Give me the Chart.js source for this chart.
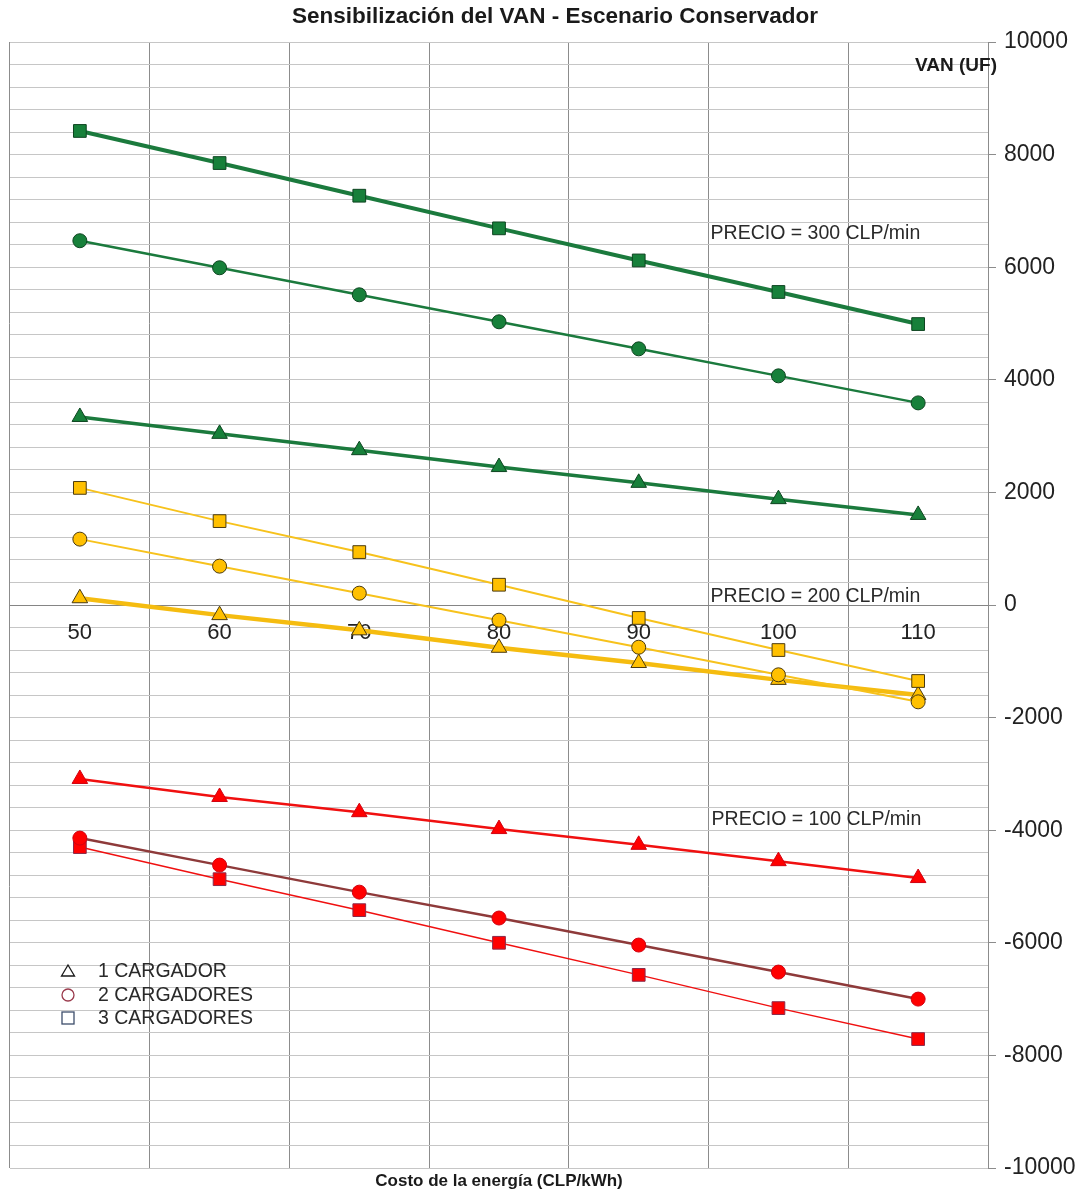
<!DOCTYPE html>
<html lang="es">
<head>
<meta charset="utf-8">
<title>Sensibilización del VAN - Escenario Conservador</title>
<script src="https://cdn.jsdelivr.net/npm/chart.js@4.4.1/dist/chart.umd.min.js"></script>
<style>
  html, body { margin: 0; padding: 0; background: #ffffff; }
  #wrap { width: 1079px; height: 1191px; position: relative; }
</style>
</head>
<body>
<div id="wrap"><canvas id="vanChart"></canvas></div>
<script>
// Costo de la energía (CLP/kWh)
const costos = ['50', '60', '70', '80', '90', '100', '110'];

// VAN (UF) - precio 300 CLP/min
const van300_1 = [3340, 3040, 2750, 2450, 2170, 1880, 1600];
const van300_2 = [6470, 5990, 5510, 5030, 4550, 4070, 3590];
const van300_3 = [8420, 7850, 7270, 6690, 6120, 5560, 4990];

// VAN (UF) - precio 200 CLP/min
const van200_1 = [120, -180, -450, -760, -1030, -1330, -1600];
const van200_2 = [1170, 690, 210, -270, -750, -1240, -1720];
const van200_3 = [2080, 1490, 940, 360, -230, -800, -1350];

// VAN (UF) - precio 100 CLP/min
const van100_1 = [-3090, -3410, -3680, -3980, -4260, -4550, -4850];
const van100_2 = [-4140, -4620, -5100, -5560, -6040, -6520, -7000];
const van100_3 = [-4300, -4870, -5420, -6000, -6570, -7160, -7710];

const leyenda = ['1 CARGADOR', '2 CARGADORES', '3 CARGADORES'];
const precios = ['PRECIO = 300 CLP/min', 'PRECIO = 200 CLP/min', 'PRECIO = 100 CLP/min'];

const FUENTE = '"Liberation Sans", Arial, sans-serif';

function serie(data, linea, ancho, forma, radio, relleno, borde) {
    return {
        data: data,
        borderColor: linea,
        borderWidth: ancho,
        pointStyle: forma,
        pointRadius: radio,
        pointBackgroundColor: relleno,
        pointBorderColor: borde,
        pointBorderWidth: 1,
        tension: 0,
        fill: false
    };
}

const verde = '#1b7a3d', verdeMarca = '#17803a', verdeBorde = '#0d4420';
const amarillo = '#f7c21c', amarilloMarca = '#ffc000', amarilloBorde = '#4a3a10';

const datasets = [
    serie(van300_3, verde, 4, 'rect', 9, verdeMarca, verdeBorde),
    serie(van300_2, verde, 2.5, 'circle', 7, verdeMarca, verdeBorde),
    serie(van300_1, verde, 3.5, 'triangle', 9, verdeMarca, verdeBorde),
    serie(van200_3, amarillo, 2, 'rect', 9, amarilloMarca, amarilloBorde),
    serie(van200_2, amarillo, 2, 'circle', 7, amarilloMarca, amarilloBorde),
    serie(van200_1, '#f5bc10', 4.5, 'triangle', 9, amarilloMarca, amarilloBorde),
    serie(van100_1, '#f01010', 2.5, 'triangle', 9, '#ff0000', '#d00010'),
    serie(van100_2, '#8e3a3a', 2.5, 'circle', 7, '#ff0000', '#d00010'),
    serie(van100_3, '#f01010', 1.5, 'rect', 9, '#ff0000', '#8a2a4a')
];

// Títulos, etiquetas de precio y leyenda dibujados sobre el canvas
const textosPlugin = {
    id: 'textos',
    afterDraw(chart) {
        const ctx = chart.ctx;
        const sx = chart.scales.x, sy = chart.scales.y;
        const area = chart.chartArea;
        ctx.save();
        ctx.textBaseline = 'middle';

        ctx.fillStyle = '#1a1a1a';
        ctx.textAlign = 'center';
        ctx.font = 'bold 22.5px ' + FUENTE;
        ctx.fillText('Sensibilización del VAN - Escenario Conservador', 555, 17);

        ctx.font = 'bold 17px ' + FUENTE;
        ctx.fillText('Costo de la energía (CLP/kWh)', (area.left + area.right) / 2, 1181);

        ctx.textAlign = 'right';
        ctx.font = 'bold 19px ' + FUENTE;
        ctx.fillText('VAN (UF)', area.right + 9, 66);

        ctx.textAlign = 'left';
        ctx.fillStyle = '#2a2a2a';
        ctx.font = '19.5px ' + FUENTE;
        const xp = sx.getPixelForValue(4.5) + 2;
        ctx.fillText(precios[0], xp, sy.getPixelForValue(6600));
        ctx.fillText(precios[1], xp, sy.getPixelForValue(150));
        ctx.fillText(precios[2], xp + 1, sy.getPixelForValue(-3820));

        // leyenda
        const lx = 68;
        const filas = [971, 995, 1018];
        ctx.lineWidth = 1.3;
        ctx.strokeStyle = '#1a1a1a';
        ctx.beginPath();
        ctx.moveTo(lx, filas[0] - 6);
        ctx.lineTo(lx + 6.5, filas[0] + 5);
        ctx.lineTo(lx - 6.5, filas[0] + 5);
        ctx.closePath();
        ctx.stroke();
        ctx.strokeStyle = '#9a3a4c';
        ctx.beginPath();
        ctx.arc(lx, filas[1], 6, 0, Math.PI * 2);
        ctx.stroke();
        ctx.strokeStyle = '#3d4d6b';
        ctx.strokeRect(lx - 6, filas[2] - 6, 12, 12);

        ctx.fillStyle = '#2a2a2a';
        ctx.font = '19.5px ' + FUENTE;
        leyenda.forEach((t, i) => ctx.fillText(t, 98, filas[i] + 1));
        ctx.restore();
    }
};

const ctx = document.getElementById('vanChart').getContext('2d');
new Chart(ctx, {
    type: 'line',
    data: {
        labels: costos,
        datasets: datasets
    },
    plugins: [textosPlugin],
    options: {
        responsive: true,
        maintainAspectRatio: false,
        animation: false,
        layout: {
            padding: { left: 10, top: 42, right: 0, bottom: 23 }
        },
        plugins: {
            legend: { display: false },
            title: { display: false },
            tooltip: { enabled: false }
        },
        scales: {
            x: {
                type: 'category',
                position: { y: 0 },
                offset: true,
                grid: {
                    offset: true,
                    color: '#8c8c8c',
                    lineWidth: 1,
                    drawTicks: false
                },
                border: { display: true, color: '#858585', width: 1 },
                ticks: {
                    padding: 15,
                    color: '#222222',
                    font: { family: FUENTE, size: 22 }
                }
            },
            y: {
                position: 'right',
                min: -10000,
                max: 10000,
                afterFit(scale) { scale.width = 91; },
                grid: {
                    color: (c) => c.tick && c.tick.value === 0 ? '#858585' : '#c6c6c6',
                    tickColor: (c) => c.tick && c.tick.value % 2000 === 0 ? '#8c8c8c' : 'rgba(0,0,0,0)',
                    tickLength: 8,
                    lineWidth: 1
                },
                border: { display: true, color: '#8c8c8c', width: 1 },
                ticks: {
                    stepSize: 400,
                    autoSkip: false,
                    padding: 8,
                    color: '#222222',
                    font: { family: FUENTE, size: 23 },
                    callback: (v) => v % 2000 === 0 ? String(v) : ''
                }
            }
        }
    }
});
</script>
</body>
</html>
